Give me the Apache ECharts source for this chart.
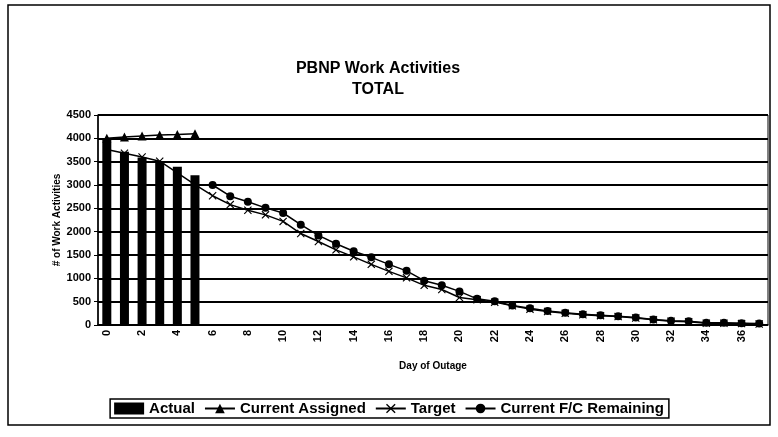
<!DOCTYPE html>
<html>
<head>
<meta charset="utf-8">
<script src="https://cdn.jsdelivr.net/npm/echarts@6/dist/echarts.min.js"></script>
<style>
  html, body { margin: 0; padding: 0; background: #fff; }
  #chart { width: 778px; height: 437px; }
</style>
</head>
<body>
<div id="chart"></div>
<script>
// 横轴：停机天数
var days = ['0','1','2','3','4','5','6','7','8','9','10','11','12','13','14','15','16','17','18',
    '19','20','21','22','23','24','25','26','27','28','29','30','31','32','33','34','35','36','37'];

// 各系列数据
var actual = [3990, 3710, 3590, 3500, 3390, 3210];
var assigned = [4000, 4030, 4050, 4070, 4080, 4100];
var target = [3760, 3680, 3600, 3510, 3260, 3010, 2770, 2580, 2460, 2360, 2220, 1960, 1790, 1610,
    1460, 1300, 1150, 1010, 850, 760, 590, 540, 490, 410, 340, 290, 250, 220, 200, 180, 150, 110,
    80, 70, 40, 40, 30, 20];
var remaining = [null, null, null, null, null, null, 3000, 2760, 2640, 2510, 2400, 2150, 1920, 1740,
    1580, 1450, 1300, 1160, 950, 850, 720, 560, 510, 420, 360, 300, 260, 230, 210, 190, 160, 120,
    90, 80, 50, 50, 40, 30];

// y 轴刻度
var yMin = 0, yMax = 4500, yStep = 500;

var font = 'Arial, "Liberation Sans", sans-serif';
var xMark = 'path://M0,1 L1,0 L5,4 L9,0 L10,1 L6,5 L10,9 L9,10 L5,6 L1,10 L0,9 L4,5 Z';

var chart = echarts.init(document.getElementById('chart'));

var option = {
    backgroundColor: '#fff',
    animation: false,
    title: {
        text: 'PBNP Work Activities\nTOTAL',
        left: 373,
        top: 53,
        textAlign: 'center',
        textStyle: {
            fontFamily: font,
            fontWeight: 'bold',
            fontSize: 16,
            lineHeight: 21,
            color: '#000'
        }
    },
    // 外边框
    graphic: [{
        type: 'rect',
        shape: { x: 8, y: 5, width: 762, height: 420 },
        style: { fill: 'none', stroke: '#000', lineWidth: 1.5 },
        z: -1
    }],
    legend: {
        bottom: 19,
        left: 'center',
        padding: [2, 5, 2, 4],
        borderColor: '#000',
        borderWidth: 1.5,
        itemGap: 9,
        itemWidth: 30,
        itemHeight: 12,
        textStyle: { fontFamily: font, fontWeight: 'bold', fontSize: 15, color: '#000' },
        data: [
            { name: 'Actual', icon: 'rect' },
            { name: 'Current Assigned' },
            { name: 'Target' },
            { name: 'Current F/C Remaining' }
        ]
    },
    grid: {
        left: 98,
        right: 10,
        top: 115,
        bottom: 112,
        show: true,
        borderColor: '#000',
        borderWidth: 1
    },
    xAxis: {
        type: 'category',
        data: days,
        boundaryGap: true,
        name: 'Day of Outage',
        nameLocation: 'middle',
        nameGap: 36,
        nameTextStyle: { fontFamily: font, fontWeight: 'bold', fontSize: 10, color: '#000' },
        axisLine: { lineStyle: { color: '#000', width: 1.5 } },
        axisTick: { interval: 0, length: 4, lineStyle: { color: '#000' } },
        axisLabel: {
            interval: 1,
            rotate: 90,
            margin: 5,
            fontFamily: font,
            fontWeight: 'bold',
            fontSize: 11,
            color: '#000'
        }
    },
    yAxis: {
        type: 'value',
        min: yMin,
        max: yMax,
        interval: yStep,
        name: '# of Work Activities',
        nameLocation: 'middle',
        nameGap: 36,
        nameMoveOverlap: false,
        nameTextStyle: { fontFamily: font, fontWeight: 'bold', fontSize: 10, color: '#000' },
        axisLine: { show: true, lineStyle: { color: '#000', width: 1.5 } },
        axisTick: { show: true, length: 4, lineStyle: { color: '#000' } },
        axisLabel: {
            margin: 7,
            fontFamily: font,
            fontWeight: 'bold',
            fontSize: 11,
            color: '#000',
            formatter: function (v) { return String(v); }
        },
        splitLine: { lineStyle: { color: '#000', width: 2 } }
    },
    series: [
        {
            name: 'Actual',
            type: 'bar',
            data: actual,
            barWidth: 9,
            itemStyle: { color: '#000' }
        },
        {
            name: 'Current Assigned',
            type: 'line',
            data: assigned,
            symbol: 'triangle',
            symbolSize: 9,
            lineStyle: { color: '#000', width: 1.5 },
            itemStyle: { color: '#000' }
        },
        {
            name: 'Target',
            type: 'line',
            data: target,
            symbol: xMark,
            symbolSize: 8,
            lineStyle: { color: '#000', width: 1.5 },
            itemStyle: { color: '#000' }
        },
        {
            name: 'Current F/C Remaining',
            type: 'line',
            data: remaining,
            symbol: 'circle',
            symbolSize: 8,
            lineStyle: { color: '#000', width: 1.5 },
            itemStyle: { color: '#000' }
        }
    ]
};

chart.setOption(option);
</script>
</body>
</html>
